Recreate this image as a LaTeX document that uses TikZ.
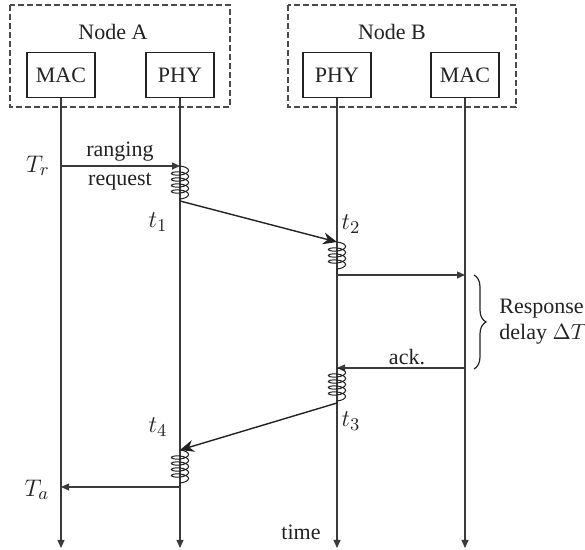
\documentclass[tikz,border=0pt]{standalone}
\usepackage{fontspec}
\setmainfont{Liberation Serif}
\usepackage{tikz}
\usetikzlibrary{positioning,arrows.meta,calc,decorations.pathmorphing,decorations.pathreplacing}
\definecolor{ink}  {HTML}{222222}
\definecolor{wire} {HTML}{3A3A3A}
\definecolor{dashc}{HTML}{4A4A4A}
\tikzset{
  layer/.style  = {draw=ink, line width=0.6pt, minimum width=34pt,
                   minimum height=22.5pt, inner sep=0pt, text=ink,
                   font=\fontsize{11}{13}\selectfont},
  group/.style  = {draw=dashc, dashed, dash pattern=on 3pt off 1.5pt,
                   line width=0.8pt},
  life/.style   = {draw=wire, line width=0.6pt,
                   -{Triangle[length=4pt,width=3.5pt]}},
  msg/.style    = {draw=wire, line width=0.6pt,
                   -{Triangle[length=4pt,width=3.5pt]}},
  hop/.style    = {draw=ink, line width=0.7pt,
                   -{Stealth[length=7pt,width=6pt]}},
  spring/.style = {draw=ink, line width=0.5pt, decorate,
                   decoration={coil, amplitude=4.3pt, segment length=3pt,
                               aspect=0.35}},
  lbl/.style    = {font=\fontsize{11}{13}\selectfont, text=ink, inner sep=1pt},
  tlbl/.style   = {font=\fontsize{13}{15}\selectfont, text=ink, inner sep=1pt},
}

\begin{document}
\begin{tikzpicture}[x=0.5pt,y=-0.5pt]
  \useasboundingbox (0,0) rectangle (585,550);

  % node A
  \draw[group] (10,5) rectangle (230,107);
  \node[lbl] (nameA) at (113,32) {Node A};
  \node[layer] (macA) at (61,75) {MAC};
  \node[layer] (phyA) at (180,75) {PHY};

  % node B
  \draw[group] (288,5) rectangle (516,107);
  \node[lbl] (nameB) at (392,32) {Node B};
  \node[layer] (phyB) at (337,75) {PHY};
  \node[layer] (macB) at (465,75) {MAC};

  % time levels
  \coordinate (bot) at (0,548);
  \foreach \n/\y in {r/166, s1/201, s2/242, e2/275, k/368, s3/403, s4/450, e4/487}
    \coordinate (lv\n) at (0,\y);

  % lifelines
  \foreach \l in {macA, phyA, phyB, macB}
    \draw[life] (\l.south) -- (\l.south |- bot);
  \node[lbl] (time) at (301,532) {time};

  % ranging request
  \draw[msg] (macA |- lvr) -- (phyA |- lvr);
  \node[lbl] (rng) at (120,152) {ranging};
  \node[lbl] (req) at (120,182) {request};
  \node[tlbl] (Tr) at (38,166) {$T_r$};
  \draw[spring] (phyA |- lvr) -- (phyA |- lvs1);

  % to node B
  \draw[hop] (phyA |- lvs1) -- (phyB |- lvs2);
  \node[tlbl] (t1) at (158,222) {$t_1$};
  \node[tlbl] (t2) at (351,224) {$t_2$};
  \draw[spring] (phyB |- lvs2) -- (phyB |- lve2);
  \draw[msg] (phyB |- lve2) -- (macB |- lve2);

  % ack
  \draw[msg] (macB |- lvk) -- (phyB |- lvk);
  \node[lbl] (ack) at (407,357) {ack.};
  \draw[spring] (phyB |- lvk) -- (phyB |- lvs3);
  \node[tlbl] (t3) at (351,421) {$t_3$};

  % response delay
  \draw[draw=ink, line width=0.6pt, decorate,
        decoration={brace, amplitude=6pt}] (474,275) -- (474,369);
  \node[lbl, anchor=west, align=left] (dly) at (497,322)
    {Response\\delay $\Delta T$};

  % back to node A
  \draw[hop] (phyB |- lvs3) -- (phyA |- lvs4);
  \node[tlbl] (t4) at (158,427) {$t_4$};
  \draw[spring] (phyA |- lvs4) -- (phyA |- lve4);
  \draw[msg] (phyA |- lve4) -- (macA |- lve4);
  \node[tlbl] (Ta) at (37,490) {$T_a$};
\end{tikzpicture}
\end{document}
